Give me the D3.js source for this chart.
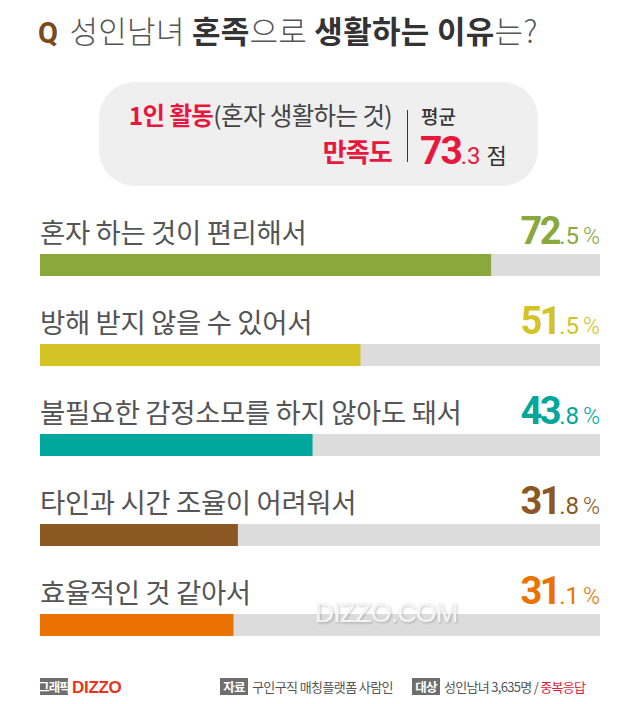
<!DOCTYPE html>
<html><head><meta charset="utf-8">
<script src="https://cdn.jsdelivr.net/npm/d3@7"></script>
<style>
html,body{margin:0;padding:0;background:#fff;}
svg{display:block;font-family:"Noto Sans CJK KR","Noto Sans",sans-serif;}
</style></head>
<body>
<script>
const categories = ["혼자 하는 것이 편리해서","방해 받지 않을 수 있어서","불필요한 감정소모를 하지 않아도 돼서","타인과 시간 조율이 어려워서","효율적인 것 같아서"];
const values = [72.5, 51.5, 43.8, 31.8, 31.1];
const colors = ["#8aa83c","#d3c324","#00a79b","#8b5722","#eb7100"];
const avgScore = 73.3;
const xMax = 90;

const W = 640, H = 704;
const svg = d3.select("body").append("svg").attr("width", W).attr("height", H);
const defs = svg.append("defs");
const f = defs.append("filter").attr("id","sh").attr("x","-10%").attr("y","-20%").attr("width","130%").attr("height","160%");
f.append("feDropShadow").attr("dx",1.2).attr("dy",1.2).attr("stdDeviation",1).attr("flood-color","#000").attr("flood-opacity",0.22);

// Title
const title = svg.append("text").attr("x", 38).attr("y", 43).attr("font-size", 31).attr("letter-spacing", 0.3);
title.append("tspan").text("Q").attr("fill","#7a4a1c").attr("font-weight",700).attr("font-family","Roboto, 'Noto Sans', sans-serif").attr("font-size",29);
title.append("tspan").text(" 성인남녀 ").attr("fill","#555").attr("font-weight",300).attr("dx",4);
title.append("tspan").text("혼족").attr("fill","#333").attr("font-weight",700);
title.append("tspan").text("으로 ").attr("fill","#555").attr("font-weight",300);
title.append("tspan").text("생활하는 이유").attr("fill","#333").attr("font-weight",700);
title.append("tspan").text("는?").attr("fill","#555").attr("font-weight",300);

// Summary box
svg.append("rect").attr("x",99).attr("y",82).attr("width",439).attr("height",104).attr("rx",36).attr("fill","#efefef");
const t1 = svg.append("text").attr("x",392).attr("y",125).attr("text-anchor","end").attr("font-size",24.5).attr("letter-spacing",-0.6);
t1.append("tspan").text("1인 활동").attr("fill","#e8173c").attr("font-weight",700);
t1.append("tspan").text("(혼자 생활하는 것)").attr("fill","#444").attr("font-weight",400);
svg.append("text").attr("x",392).attr("y",162).attr("text-anchor","end").attr("font-size",26).attr("font-weight",700).attr("fill","#e8173c").attr("letter-spacing",-0.8).text("만족도");
svg.append("line").attr("x1",407.5).attr("x2",407.5).attr("y1",110).attr("y2",162).attr("stroke","#333").attr("stroke-width",1);
svg.append("text").attr("x",421).attr("y",124).attr("font-size",19).attr("fill","#333").attr("font-weight",500).text("평균");
const avgParts = avgScore.toFixed(1).split(".");
const t2 = svg.append("text").attr("x",420).attr("y",164).attr("fill","#e8173c");
t2.append("tspan").text(avgParts[0]).attr("font-size",39).attr("font-weight",700).attr("letter-spacing",-2).attr("font-family","Roboto, 'Noto Sans', sans-serif");
t2.append("tspan").text("."+avgParts[1]).attr("font-size",24).attr("font-weight",400).attr("font-family","Roboto, 'Noto Sans', sans-serif");
t2.append("tspan").text("점").attr("font-size",22).attr("fill","#333").attr("font-weight",400).attr("dx",6);

// Bars
const x = d3.scaleLinear().domain([0, xMax]).range([40, 600]);
const y = d3.scaleBand().domain(categories).range([254, 704]).paddingInner(0).paddingOuter(0);
const barH = 22;

const g = svg.append("g");
const rows = g.selectAll("g.row").data(categories).join("g").attr("class","row");
rows.append("rect").attr("x", x(0)).attr("y", d => y(d)).attr("width", x(xMax)-x(0)).attr("height", barH).attr("fill","#dcdcdc");
rows.append("rect").attr("x", x(0)).attr("y", d => y(d)).attr("width", (d,i) => x(values[i])-x(0)).attr("height", barH).attr("fill",(d,i)=>colors[i]);
rows.append("text").attr("x", 40).attr("y", d => y(d)-11).attr("font-size",27.5).attr("fill","#555").attr("font-weight",400).attr("letter-spacing",-0.4).text(d=>d);
const vt = rows.append("text").attr("x", 600).attr("y", d => y(d)-10).attr("text-anchor","end").attr("fill",(d,i)=>colors[i]).attr("font-family","Roboto, 'Noto Sans', sans-serif");
vt.append("tspan").text((d,i)=>values[i].toFixed(1).split(".")[0]).attr("font-size",38).attr("font-weight",700).attr("letter-spacing",-2.5);
vt.append("tspan").text((d,i)=>"."+values[i].toFixed(1).split(".")[1]).attr("font-size",24).attr("font-weight",400);
vt.append("tspan").text("%").attr("font-size",23).attr("font-weight",300).attr("dx",4);

// Watermark
svg.append("text").attr("x",386).attr("y",622).attr("text-anchor","middle").attr("font-size",27).attr("fill","#f4f4f4").attr("filter","url(#sh)").attr("font-family","'Liberation Sans', Arial, sans-serif").attr("letter-spacing",-1).text("DIZZO.COM");

// Footer
const fy = 692;
function tag(xp, txt, w){
  svg.append("rect").attr("x",xp).attr("y",678).attr("width",w).attr("height",17).attr("fill","#6e6e6e");
  svg.append("text").attr("x",xp+w/2).attr("y",fy).attr("text-anchor","middle").attr("font-size",12.5).attr("font-weight",700).attr("fill","#fff").attr("letter-spacing",-0.8).text(txt);
}
tag(40,"그래픽",28);
svg.append("text").attr("x",72).attr("y",693).attr("font-size",17).attr("font-weight",700).attr("fill","#e8341c").attr("font-family","'Liberation Sans Narrow','Liberation Sans', Arial, sans-serif").attr("letter-spacing",-0.3).text("DIZZO");
tag(220,"자료",28);
svg.append("text").attr("x",252).attr("y",fy).attr("font-size",13).attr("fill","#555").attr("letter-spacing",-0.6).text("구인구직 매칭플랫폼 사람인");
tag(412,"대상",28);
const ft = svg.append("text").attr("x",444).attr("y",fy).attr("font-size",13).attr("fill","#555").attr("letter-spacing",-0.7);
ft.append("tspan").text("성인남녀 3,635명 / ");
ft.append("tspan").text("중복응답").attr("fill","#e8173c");
</script>
</body></html>
